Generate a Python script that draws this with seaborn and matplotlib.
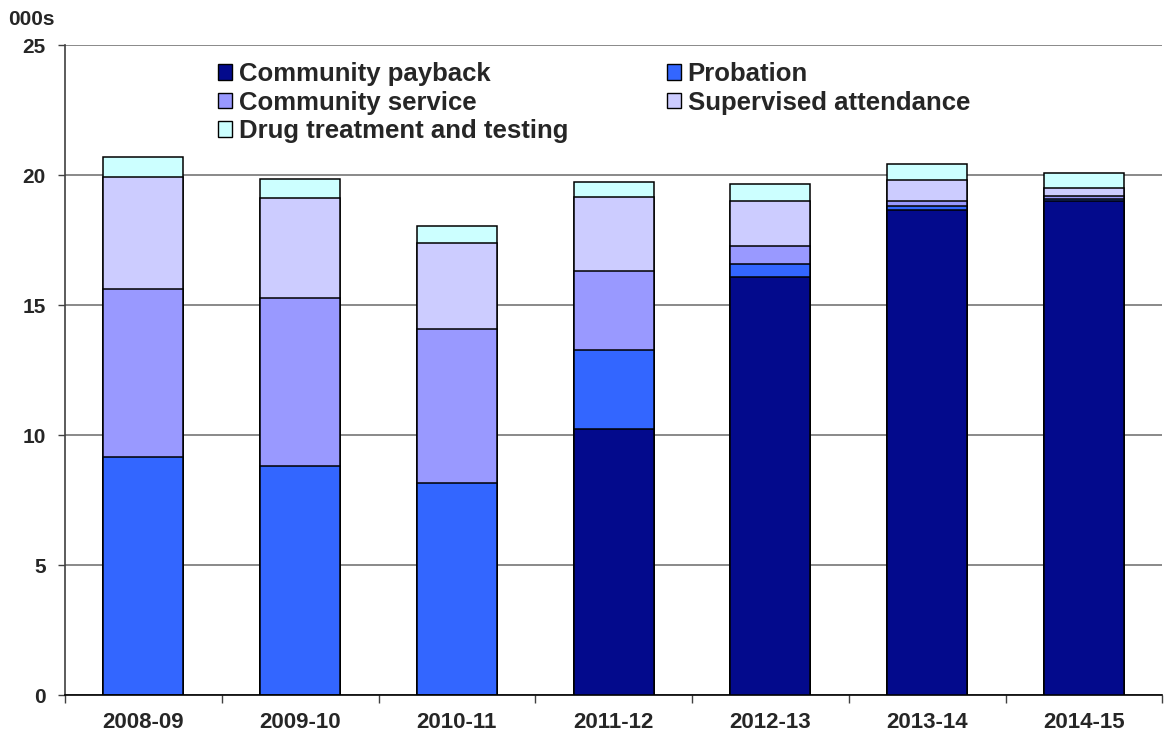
import numpy as np
import pandas as pd
import matplotlib
matplotlib.use("Agg")
import matplotlib.pyplot as plt
from matplotlib.patches import Patch
import seaborn as sns

# Orders by disposal type, thousands
years = ["2008-09", "2009-10", "2010-11", "2011-12", "2012-13", "2013-14", "2014-15"]
community_payback = [0.0, 0.0, 0.0, 10.23, 16.09, 18.67, 19.00]
probation = [9.15, 8.83, 8.15, 3.04, 0.50, 0.15, 0.10]
community_service = [6.47, 6.44, 5.93, 3.05, 0.68, 0.21, 0.09]
supervised_attendance = [4.30, 3.86, 3.30, 2.86, 1.76, 0.78, 0.33]
drug_treatment = [0.78, 0.74, 0.67, 0.56, 0.65, 0.64, 0.56]

series_names = ["Community payback", "Probation", "Community service",
                "Supervised attendance", "Drug treatment and testing"]
series_values = [community_payback, probation, community_service,
                 supervised_attendance, drug_treatment]
series_colors = ["#030A8C", "#3366FF", "#9999FF", "#CCCCFF", "#CCFFFF"]

sns.set_style("white")
plt.rcParams["font.family"] = ["Liberation Sans", "DejaVu Sans"]
plt.rcParams["font.weight"] = "bold"

fig = plt.figure(figsize=(11.74, 7.31), dpi=100)
ax = fig.add_axes([0.0554, 0.049, 0.9346, 0.889])

df = pd.DataFrame({name: vals for name, vals in zip(series_names, series_values)})
df["year"] = years
cum = df[series_names].cumsum(axis=1)

# Stack by drawing cumulative totals, tallest first
for name, color in reversed(list(zip(series_names, series_colors))):
    sns.barplot(x=df["year"], y=cum[name], order=years, color=color,
                edgecolor="black", linewidth=1.1, width=0.51, ax=ax,
                saturation=1, zorder=3)

ax.set_xlim(-0.5, len(years) - 0.5)
ax.set_ylim(0, 25)
ax.set_yticks([0, 5, 10, 15, 20, 25])
ax.yaxis.grid(True, color="#808080", linewidth=1.3, zorder=0)
ax.set_axisbelow(True)
ax.set_xlabel("")
ax.set_ylabel("")

ax.tick_params(axis="y", which="major", direction="out", length=5, width=1,
               color="#404040", labelsize=15, pad=9, left=True)
ax.tick_params(axis="x", which="major", length=0, labelsize=16, pad=12)
ax.set_xticks(np.arange(-0.5, len(years), 1.0), minor=True)
ax.tick_params(axis="x", which="minor", direction="out", length=6, width=1,
               color="#404040", bottom=True)
for lbl in ax.get_xticklabels() + ax.get_yticklabels():
    lbl.set_fontweight("bold")

for side in ["top", "right"]:
    ax.spines[side].set_visible(False)
ax.spines["left"].set_color("#404040")
ax.spines["left"].set_linewidth(1.2)
ax.spines["bottom"].set_color("black")
ax.spines["bottom"].set_linewidth(1.2)

fig.text(0.007, 0.974, "000s", fontsize=15, fontweight="bold",
         ha="left", va="center")

# Legend laid out row by row: fill the first column with items 0, 2, 4
handles = [Patch(facecolor=c, edgecolor="black", linewidth=1.0, label=n)
           for n, c in zip(series_names, series_colors)]
order = [0, 2, 4, 1, 3]
leg = ax.legend([handles[i] for i in order], [series_names[i] for i in order],
                ncol=2, loc="upper left", bbox_to_anchor=(0.1395, 0.974),
                frameon=False, prop={"size": 18.5, "weight": "bold"},
                handlelength=0.55, handleheight=0.55, handletextpad=0.25,
                labelspacing=0.17, columnspacing=3.85, borderaxespad=0,
                borderpad=0)

fig.savefig("out.png", dpi=100)
